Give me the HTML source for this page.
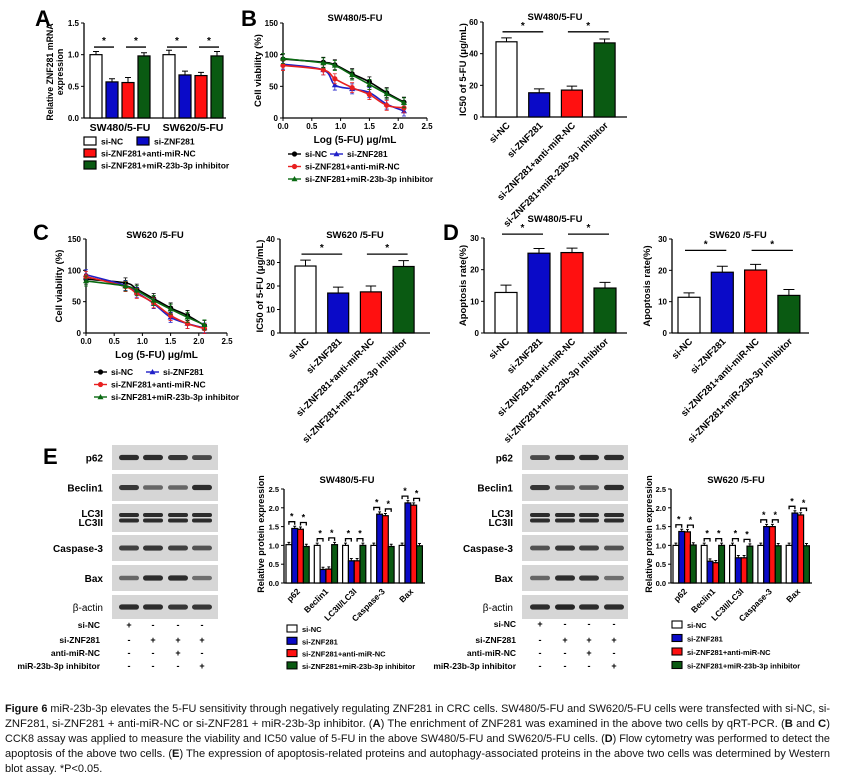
<!DOCTYPE html>
<html><head><meta charset="utf-8">
<style>
html,body{margin:0;padding:0;background:#fff;}
svg{display:block;font-family:"Liberation Sans",Arial,sans-serif;}
.b{font-weight:bold;}
</style></head>
<body>
<svg id="fig" width="856" height="778" viewBox="0 0 856 778" xmlns="http://www.w3.org/2000/svg">
<rect width="856" height="778" fill="#fff"/>
<g class="b" font-size="22" fill="#000">
<text x="35" y="26">A</text>
<text x="241" y="26">B</text>
<text x="33" y="240">C</text>
<text x="443" y="240">D</text>
<text x="43" y="464">E</text>
</g>
<g id="caption" font-size="11" fill="#111">
<text x="5" y="712" textLength="825" lengthAdjust="spacingAndGlyphs"><tspan font-weight="bold">Figure 6</tspan> miR-23b-3p elevates the 5-FU sensitivity through negatively regulating ZNF281 in CRC cells. SW480/5-FU and SW620/5-FU cells were transfected with si-NC, si-</text>
<text x="5" y="727" textLength="825" lengthAdjust="spacingAndGlyphs">ZNF281, si-ZNF281 + anti-miR-NC or si-ZNF281 + miR-23b-3p inhibitor. (<tspan font-weight="bold">A</tspan>) The enrichment of ZNF281 was examined in the above two cells by qRT-PCR. (<tspan font-weight="bold">B</tspan> and <tspan font-weight="bold">C</tspan>)</text>
<text x="5" y="742" textLength="825" lengthAdjust="spacingAndGlyphs">CCK8 assay was applied to measure the viability and IC50 value of 5-FU in the above SW480/5-FU and SW620/5-FU cells. (<tspan font-weight="bold">D</tspan>) Flow cytometry was performed to detect the</text>
<text x="5" y="757" textLength="825" lengthAdjust="spacingAndGlyphs">apoptosis of the above two cells. (<tspan font-weight="bold">E</tspan>) The expression of apoptosis-related proteins and autophagy-associated proteins in the above two cells was determined by Western</text>
<text x="5" y="772">blot assay. *P&lt;0.05.</text>
</g>
</svg>
<script>
// ---------- DATA ----------
const groupNames = ["si-NC","si-ZNF281","si-ZNF281+anti-miR-NC","si-ZNF281+miR-23b-3p inhibitor"];
const seriesColors = ["#ffffff","#0a0ac8","#ff1010","#0a5a12"];
// Panel A
const aCategories = ["SW480/5-FU","SW620/5-FU"];
const aValues = [[1.0,0.57,0.56,0.98],[1.0,0.68,0.67,0.98]];
const aErrors = [[0.05,0.05,0.08,0.05],[0.07,0.06,0.05,0.07]];
const aTicks = [0,0.5,1.0,1.5];
const aTickLabels = ["0.0","0.5","1.0","1.5"];
// Panels B/C viability curves
const doseX = [0,0.7,0.9,1.2,1.5,1.8,2.1];
const bNC = [93,88,84,70,57,40,25];
const bZNF = [85,76,52,46,40,22,11];
const bAnti = [83,76,62,48,37,20,16];
const bInh = [94,87,83,68,53,38,24];
const cNC = [86,80,70,55,40,28,12];
const cZNF = [93,76,65,47,25,15,8];
const cAnti = [90,74,63,48,28,15,7];
const cInh = [83,75,68,52,38,25,13];
const viaYTicks = [0,50,100,150];
const viaXTicks = [0,0.5,1.0,1.5,2.0,2.5];
const viaXTickLabels = ["0.0","0.5","1.0","1.5","2.0","2.5"];
// IC50
const bIC50 = [47.5,15.3,17,46.8];
const bIC50Err = [2.5,2.5,2.5,2.5];
const bIC50Ticks = [0,20,40,60];
const cIC50 = [28.5,17,17.5,28.3];
const cIC50Err = [2.5,2.5,2.5,2.5];
const cIC50Ticks = [0,10,20,30,40];
// Apoptosis
const dSW480 = [12.8,25.2,25.4,14.2];
const dSW480Err = [2.3,1.5,1.4,1.8];
const dSW620 = [11.4,19.4,20.1,12.0];
const dSW620Err = [1.4,1.9,1.8,1.9];
const apoTicks = [0,10,20,30];
// Panel E protein expression
const proteinCategories = ["p62","Beclin1","LC3II/LC3I","Caspase-3","Bax"];
const e480 = [[1.02,1.45,1.43,0.97],[1.0,0.36,0.37,1.02],[1.0,0.59,0.59,1.0],[1.0,1.83,1.79,0.97],[1.0,2.13,2.07,0.99]];
const e620 = [[1.0,1.37,1.36,1.01],[1.0,0.58,0.54,1.0],[1.0,0.67,0.67,0.98],[1.0,1.5,1.5,0.99],[1.0,1.86,1.81,0.99]];
const eTicks = [0,0.5,1.0,1.5,2.0,2.5];
const eTickLabels = ["0.0","0.5","1.0","1.5","2.0","2.5"];
const blotRows = ["p62","Beclin1","LC3","Caspase-3","Bax","β-actin"];
const blot480 = [[0.9,0.9,0.85,0.75],[0.85,0.6,0.6,0.9],[0.9,0.9,0.9,0.9],[0.8,0.85,0.8,0.7],[0.6,0.9,0.9,0.55],[0.9,0.9,0.85,0.85]];
const blot620 = [[0.75,0.9,0.9,0.9],[0.85,0.65,0.65,0.9],[0.9,0.9,0.9,0.9],[0.7,0.85,0.8,0.7],[0.6,0.9,0.85,0.55],[0.9,0.95,0.9,0.9]];
const treatLabels = ["si-NC","si-ZNF281","anti-miR-NC","miR-23b-3p inhibitor"];
const treatSigns = [["+","-","-","-"],["-","+","+","+"],["-","-","+","-"],["-","-","-","+"]];

// ---------- HELPERS ----------
const NS = "http://www.w3.org/2000/svg";
const svg = document.getElementById('fig');
function mk(tag, attrs, parent){
  const e = document.createElementNS(NS, tag);
  for (const k in attrs) e.setAttribute(k, attrs[k]);
  (parent||svg).appendChild(e);
  return e;
}
function txt(s, attrs, parent){ const e = mk('text', attrs, parent); e.textContent = s; return e; }
function linScale(d0,d1,r0,r1){ return v => r0 + (v-d0)/(d1-d0)*(r1-r0); }

function yAxis(g, ax, y0, yTop, ticks, labels, sy, fs){
  let e = mk('line',{x1:ax,y1:y0,x2:ax,y2:yTop,stroke:'#000','stroke-width':1.3},g);
  
  
  ticks.forEach((t,i)=>{
    const y = sy(t);
    const tk = mk('line',{x1:ax-3,y1:y,x2:ax,y2:y,stroke:'#000','stroke-width':1},g);
    
    
    const tl = txt(labels?labels[i]:String(t),{x:ax-5,y:y+3,'font-size':fs||8,'text-anchor':'end','font-weight':'bold'},g);
    
    
  });
}
function rotLabel(g, s, x, y, fs, name){
  const t = txt(s,{x:x,y:y,'font-size':fs,'text-anchor':'end','font-weight':'bold',transform:`rotate(-45 ${x} ${y})`},g);
  
  
}
function vLabel(g, s, x, y, fs){
  const t = txt(s,{x:x,y:y,'font-size':fs,'text-anchor':'middle','font-weight':'bold',transform:`rotate(-90 ${x} ${y})`},g);
  
  
}
function title(g, s, x, y, fs){
  const t = txt(s,{x:x,y:y,'font-size':fs||9.5,'text-anchor':'middle','font-weight':'bold'},g);
  
  
}
function bar(g, x, w, y0, y, color, errY){
  const r = mk('rect',{x:x,y:y,width:w,height:y0-y,fill:color,stroke:'#000','stroke-width':1.2},g);
  
  
  const cx = x + w/2;
  const e = mk('path',{d:`M${cx} ${y} V${errY} M${cx-w*0.25} ${errY} H${cx+w*0.25}`,stroke:'#000','stroke-width':1,fill:'none'},g);
  
  
}
function sigLine(g, x1, x2, y, fs){
  const l = mk('line',{x1:x1,y1:y,x2:x2,y2:y,stroke:'#000','stroke-width':1.3},g);
  
  
  const s = txt('*',{x:(x1+x2)/2,y:y-3,'font-size':fs||10,'text-anchor':'middle','font-weight':'bold'},g);
  
  
}

// Simple 4-bar chart
function fourBar(cfg, vals, errs){
  const g = mk('g',{});
  
  
  const sy = linScale(0,cfg.max,cfg.y0,cfg.yTop);
  yAxis(g,cfg.ax,cfg.y0,cfg.yTop,cfg.ticks,null,sy,8);
  const xa = mk('line',{x1:cfg.ax,y1:cfg.y0,x2:cfg.axEnd,y2:cfg.y0,stroke:'#000','stroke-width':1.3},g);
  
  
  const centers = [];
  vals.forEach((v,i)=>{
    const x = cfg.first + i*cfg.step;
    bar(g,x,cfg.w,cfg.y0,sy(v),seriesColors[i],sy(v+errs[i]));
    centers.push(x+cfg.w/2);
    rotLabel(g,groupNames[i],x+cfg.w/2+4,cfg.y0+9,9.5,'x-tick-label');
  });
  const top1 = Math.max(vals[0]+errs[0],vals[1]+errs[1]);
  const top2 = Math.max(vals[2]+errs[2],vals[3]+errs[3]);
  const ly = Math.min(sy(top1),sy(top2)) - cfg.sigGap;
  sigLine(g,centers[0]-4,centers[1]+4,ly);
  sigLine(g,centers[2]-4,centers[3]+4,ly);
  title(g,cfg.title,cfg.tx,cfg.ty);
  vLabel(g,cfg.ylab,cfg.ylx,(cfg.y0+cfg.yTop)/2,9.5);
}

// Panel A
(function(){
  const g = mk('g',{});
  
  
  const y0=118, yTop=23, ax=84;
  const sy = linScale(0,1.5,y0,yTop);
  yAxis(g,ax,y0,yTop,aTicks,aTickLabels,sy,8);
  const xa = mk('line',{x1:ax,y1:y0,x2:226,y2:y0,stroke:'#000','stroke-width':1.3},g);
  
  
  aValues.forEach((grp,gi)=>{
    const cs=[];
    grp.forEach((v,si)=>{
      const x = 90 + gi*73 + si*16;
      bar(g,x,12,y0,sy(v),seriesColors[si],sy(v+aErrors[gi][si]));
      cs.push(x+6);
    });
    const ly = sy(1.12);
    sigLine(g,cs[0]-2,cs[1]+2,ly,10);
    sigLine(g,cs[2]-2,cs[3]+2,ly,10);
    const cl = txt(aCategories[gi],{x:(cs[0]+cs[3])/2,y:131,'font-size':10.5,'text-anchor':'middle','font-weight':'bold'},g);
    
    
  });
  const t1 = txt('Relative ZNF281 mRNA',{x:53,y:72,'font-size':8.8,'text-anchor':'middle','font-weight':'bold',transform:'rotate(-90 53 72)'},g);
  
  
  const t2 = txt('expression',{x:63,y:72,'font-size':8.8,'text-anchor':'middle','font-weight':'bold',transform:'rotate(-90 63 72)'},g);
  
  
  const leg = [[84,137,0],[137,137,1],[84,149,2],[84,161,3]];
  leg.forEach(p=>{
    const r = mk('rect',{x:p[0],y:p[1],width:12,height:8,fill:seriesColors[p[2]],stroke:'#000','stroke-width':1.2},g);
    
    
    const t = txt(groupNames[p[2]],{x:p[0]+17,y:p[1]+7.5,'font-size':8.5,'font-weight':'bold'},g);
    
    
  });
})();

// Viability curve charts
function catmull(pts){
  let d = `M${pts[0][0]} ${pts[0][1]}`;
  for(let i=0;i<pts.length-1;i++){
    const p0=pts[Math.max(0,i-1)],p1=pts[i],p2=pts[i+1],p3=pts[Math.min(pts.length-1,i+2)];
    const c1x=p1[0]+(p2[0]-p0[0])/6,c1y=p1[1]+(p2[1]-p0[1])/6;
    const c2x=p2[0]-(p3[0]-p1[0])/6,c2y=p2[1]-(p3[1]-p1[1])/6;
    d+=` C${c1x} ${c1y} ${c2x} ${c2y} ${p2[0]} ${p2[1]}`;
  }
  return d;
}
function marker(g,x,y,shape,color){
  let m;
  if(shape==='c') m = mk('circle',{cx:x,cy:y,r:2.6,fill:color},g);
  else m = mk('path',{d:`M${x} ${y-3} L${x+3} ${y+2.2} L${x-3} ${y+2.2}Z`,fill:color},g);
  
  
}
function viability(cfg, series){
  const g = mk('g',{});
  
  
  const sy = linScale(0,150,cfg.y0,cfg.yTop);
  const sx = linScale(0,2.5,cfg.x0,cfg.xEnd);
  yAxis(g,cfg.x0,cfg.y0,cfg.yTop,viaYTicks,null,sy,8);
  const xa = mk('line',{x1:cfg.x0,y1:cfg.y0,x2:cfg.xEnd,y2:cfg.y0,stroke:'#000','stroke-width':1.3},g);
  
  
  viaXTicks.forEach((t,i)=>{
    const x=sx(t);
    const tk = mk('line',{x1:x,y1:cfg.y0,x2:x,y2:cfg.y0+3,stroke:'#000'},g);
    
    
    const tl = txt(viaXTickLabels[i],{x:x,y:cfg.y0+11,'font-size':8,'text-anchor':'middle','font-weight':'bold'},g);
    
    
  });
  const styles = [['#000','c'],['#2020c8','t'],['#e82020','c'],['#0a6a12','t']];
  series.forEach((vals,si)=>{
    const pts = vals.map((v,i)=>[sx(doseX[i]),sy(v)]);
    const p = mk('path',{d:catmull(pts),fill:'none',stroke:styles[si][0],'stroke-width':1.6},g);
    
    
    pts.forEach(pt=>{
      const eb = mk('path',{d:`M${pt[0]} ${pt[1]-5} V${pt[1]+5} M${pt[0]-2} ${pt[1]-5} H${pt[0]+2} M${pt[0]-2} ${pt[1]+5} H${pt[0]+2}`,stroke:styles[si][0],'stroke-width':0.8,fill:'none'},g);
      
      
      marker(g,pt[0],pt[1],styles[si][1],styles[si][0]);
    });
  });
  title(g,cfg.title,cfg.tx,cfg.ty);
  vLabel(g,'Cell viability (%)',cfg.ylx,(cfg.y0+cfg.yTop)/2,9.5);
  const xl = txt('Log (5-FU) μg/mL',{x:(cfg.x0+cfg.xEnd)/2,y:cfg.y0+25,'font-size':10,'text-anchor':'middle','font-weight':'bold'},g);
  
  
  const L = cfg.leg;
  const items = [[L.x,L.y,0],[L.x2,L.y,1],[L.x,L.y+12.5,2],[L.x,L.y+25,3]];
  items.forEach(it=>{
    const st = styles[it[2]];
    const ln = mk('line',{x1:it[0],y1:it[1],x2:it[0]+13,y2:it[1],stroke:st[0],'stroke-width':1.4},g);
    
    
    marker(g,it[0]+6.5,it[1],st[1],st[0]);
    const t = txt(groupNames[it[2]],{x:it[0]+17,y:it[1]+3,'font-size':8.5,'font-weight':'bold'},g);
    
    
  });
}
viability({name:'panel-b-viability',x0:283,xEnd:427,y0:118,yTop:23,title:'SW480/5-FU',tx:355,ty:21,ylx:261,leg:{x:288,x2:330,y:154}},[bNC,bZNF,bAnti,bInh]);
viability({name:'panel-c-viability',x0:86,xEnd:227,y0:333,yTop:239,title:'SW620 /5-FU',tx:155,ty:238,ylx:62,leg:{x:94,x2:146,y:372}},[cNC,cZNF,cAnti,cInh]);

fourBar({name:'panel-b-ic50',ax:483,y0:117,yTop:22,max:60,ticks:bIC50Ticks,first:496,step:32.7,w:21,axEnd:627,sigGap:6,title:'SW480/5-FU',tx:555,ty:20,ylab:'IC50 of 5-FU (μg/mL)',ylx:466},bIC50,bIC50Err);
fourBar({name:'panel-c-ic50',ax:280,y0:333,yTop:239,max:40,ticks:cIC50Ticks,first:295,step:32.7,w:21,axEnd:430,sigGap:6,title:'SW620 /5-FU',tx:355,ty:238,ylab:'IC50 of 5-FU (μg/mL)',ylx:263},cIC50,cIC50Err);
fourBar({name:'panel-d-sw480',ax:484,y0:333,yTop:238,max:30,ticks:apoTicks,first:495,step:33,w:22,axEnd:627,sigGap:14,title:'SW480/5-FU',tx:555,ty:222,ylab:'Apoptosis rate(%)',ylx:466},dSW480,dSW480Err);
fourBar({name:'panel-d-sw620',ax:672,y0:333,yTop:239,max:30,ticks:apoTicks,first:678,step:33.3,w:22,axEnd:809,sigGap:14,title:'SW620 /5-FU',tx:738,ty:238,ylab:'Apoptosis rate(%)',ylx:650},dSW620,dSW620Err);

// Panel E grouped charts
function proteinChart(cfg, data){
  const g = mk('g',{});
  
  
  const sy = linScale(0,2.5,cfg.y0,cfg.yTop);
  yAxis(g,cfg.ax,cfg.y0,cfg.yTop,eTicks,eTickLabels,sy,7.5);
  const xa = mk('line',{x1:cfg.ax,y1:cfg.y0,x2:cfg.axEnd,y2:cfg.y0,stroke:'#000','stroke-width':1.2},g);
  
  
  data.forEach((grp,gi)=>{
    const cs=[];
    grp.forEach((v,si)=>{
      const x = cfg.first + gi*cfg.step + si*cfg.w;
      bar(g,x,cfg.w,cfg.y0,sy(v),seriesColors[si],sy(v+0.06));
      cs.push(x+cfg.w/2);
    });
    [[0,1],[2,3]].forEach(pr=>{
      const top = Math.max(grp[pr[0]],grp[pr[1]])+0.18;
      const y = sy(top);
      const br = mk('path',{d:`M${cs[pr[0]]} ${y+3} V${y} H${cs[pr[1]]} V${y+3}`,stroke:'#000','stroke-width':1.3,fill:'none'},g);
      
      
      const s = txt('*',{x:(cs[pr[0]]+cs[pr[1]])/2,y:y-2,'font-size':9,'text-anchor':'middle','font-weight':'bold'},g);
      
      
    });
    rotLabel(g,proteinCategories[gi],(cs[1]+cs[2])/2+3,cfg.y0+9,8.5,'x-category-label');
  });
  title(g,cfg.title,cfg.tx,cfg.ty);
  vLabel(g,'Relative protein expression',cfg.ylx,(cfg.y0+cfg.yTop)/2-2,9);
  groupNames.forEach((n,i)=>{
    const y = cfg.legY + i*cfg.legStep;
    const r = mk('rect',{x:cfg.legX,y:y-7,width:10,height:7,fill:seriesColors[i],stroke:'#000','stroke-width':1.1},g);
    
    
    const t = txt(n,{x:cfg.legX+15,y:y,'font-size':7.5,'font-weight':'bold'},g);
    
    
  });
}
proteinChart({name:'panel-e-sw480-chart',ax:284,y0:583,yTop:489,axEnd:425,first:286,step:28.3,w:5.8,title:'SW480/5-FU',tx:347,ty:483,ylx:264,legX:287,legY:632,legStep:12.3},e480);
proteinChart({name:'panel-e-sw620-chart',ax:671,y0:583,yTop:489,axEnd:812,first:673,step:28.3,w:5.8,title:'SW620 /5-FU',tx:736,ty:483,ylx:652,legX:672,legY:628,legStep:13.5},e620);

// Western blots
function blot(cfg, intens){
  const g = mk('g',{});
  
  
  const rows = [[445,470],[474,501],[504,532],[535,561],[565,591],[595,619]];
  const labels = ['p62','Beclin1','LC3I','Caspase-3','Bax','β-actin'];
  rows.forEach((r,ri)=>{
    const box = mk('rect',{x:cfg.x,y:r[0],width:cfg.w,height:r[1]-r[0],fill:'#d6d6d6'},g);
    
    
    const cy=(r[0]+r[1])/2;
    cfg.lanes.forEach((lx,li)=>{
      const a = intens[ri][li];
      if(ri===2){
        [cy-3,cy+2.5].forEach(by=>{
          const b = mk('rect',{x:lx-10,y:by-2,width:20,height:4,rx:2,fill:'#1a1a1a','fill-opacity':a},g);
          
          
        });
      } else {
        const h = 3+2.5*a;
        const b = mk('rect',{x:lx-10,y:cy-h/2,width:20,height:h,rx:h/2,fill:'#1a1a1a','fill-opacity':a},g);
        
        
      }
    });
    if(ri===2){
      const t1 = txt('LC3I',{x:cfg.labX,y:cy-1,'font-size':10,'text-anchor':'end','font-weight':'bold'},g);
      
      
      const t2 = txt('LC3II',{x:cfg.labX,y:cy+8,'font-size':10,'text-anchor':'end','font-weight':'bold'},g);
      
      
    } else {
      const t = txt(labels[ri],{x:cfg.labX,y:cy+4,'font-size':10,'text-anchor':'end','font-weight':ri===5?'normal':'bold'},g);
      
      
    }
  });
  treatLabels.forEach((n,i)=>{
    const y = cfg.tY[i];
    const t = txt(n,{x:cfg.tX,y:y,'font-size':8.5,'text-anchor':'end','font-weight':'bold'},g);
    
    
    cfg.lanes.forEach((lx,li)=>{
      const s = txt(treatSigns[i][li],{x:lx,y:y,'font-size':9,'text-anchor':'middle','font-weight':'bold'},g);
      
      
    });
  });
}
blot({name:'panel-e-sw480-blot',x:112,w:106,lanes:[129,153,178,202],labX:103,tX:100,tY:[628,643,656,669]},blot480);
blot({name:'panel-e-sw620-blot',x:522,w:106,lanes:[540,565,589,614],labX:513,tX:516,tY:[627,643,656,669]},blot620);
</script>
</body></html>
